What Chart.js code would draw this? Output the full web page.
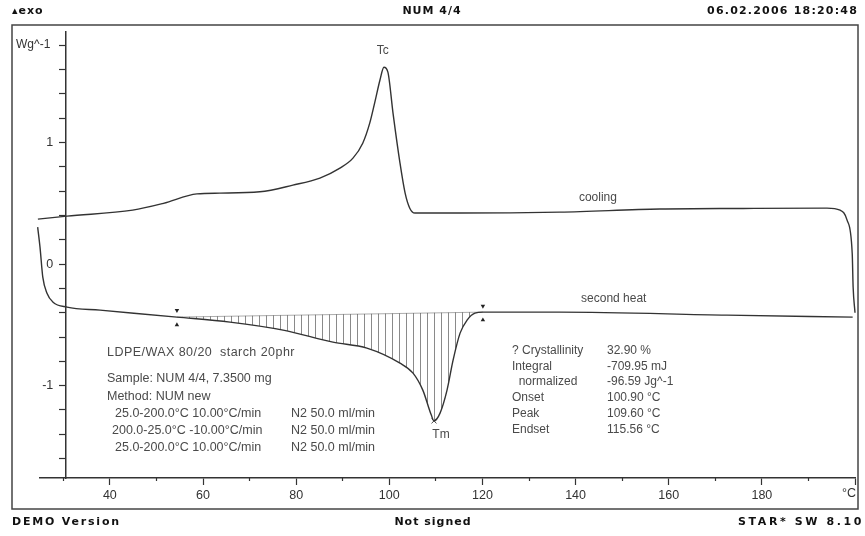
<!DOCTYPE html>
<html>
<head>
<meta charset="utf-8">
<script src="https://cdn.jsdelivr.net/npm/chart.js@4.4.1/dist/chart.umd.min.js"></script>
<style>
html, body { margin: 0; padding: 0; background: #fff; }
</style>
</head>
<body>
<canvas id="myChart" width="865" height="536"></canvas>
<script>
// DSC curves: temperature in °C, heat flow in W/g
var coolTemp   = [24.55, 30.8, 44.9, 51.5, 58.7, 63.6, 72.2, 79.3, 85.1, 89.4, 92.2, 94.3, 95.8, 96.9, 98.0, 98.85, 99.7, 100.8, 102.3, 103.4, 104.4, 105.5, 115.2, 136.6, 158.1, 176.0, 194.0, 196.8, 198.3, 199.4, 199.6, 200.0];
var coolSignal = [0.37, 0.395, 0.444, 0.50, 0.578, 0.584, 0.595, 0.65, 0.708, 0.79, 0.872, 0.995, 1.16, 1.333, 1.515, 1.62, 1.58, 1.243, 0.831, 0.584, 0.46, 0.42, 0.42, 0.428, 0.453, 0.458, 0.461, 0.444, 0.362, 0.09, -0.19, -0.40];

var heatTemp   = [24.5, 25.0, 25.6, 26.5, 27.8, 30.8, 37.9, 54.4, 65.8, 77.2, 87.9, 95.2, 102.3, 105.1, 107.2, 109.0, 109.6, 110.9, 112.4, 113.7, 115.2, 116.7, 118.4, 120.1, 136.6, 172.5, 199.5];
var heatSignal = [0.305, 0.14, -0.107, -0.239, -0.313, -0.354, -0.379, -0.436, -0.477, -0.543, -0.642, -0.691, -0.815, -0.897, -1.037, -1.24, -1.29, -1.226, -1.037, -0.79, -0.568, -0.461, -0.403, -0.395, -0.395, -0.42, -0.436];

// integration limits (onset / endset of the peak area)
var limitTemp  = [54.4, 120.1];
var limitBase  = [-0.436, -0.395];
var limitUpper = [-0.38, -0.345];
var limitLower = [-0.50, -0.46];

var peakTemp = [109.6];
var peakSignal = [-1.29];

var xMajorTicks = [40, 60, 80, 100, 120, 140, 160, 180, 200];
var xMinorTicks = [30, 50, 70, 90, 110, 130, 150, 170, 190];
var yTicks = [-1.6, -1.4, -1.2, -1, -0.8, -0.6, -0.4, -0.2, 0, 0.2, 0.4, 0.6, 0.8, 1, 1.2, 1.4, 1.6, 1.8];

var xMin = 25, xMax = 200, yMin = -1.76, yMax = 1.91;
var yAxisAt = 30.5, yLabelsAt = 27.85;

function pts(xs, ys) {
    return xs.map(function (v, i) { return { x: v, y: ys[i] }; });
}

var peakArea = pts(heatTemp, heatSignal).filter(function (p) {
    return p.x >= limitTemp[0] && p.x <= limitTemp[1];
});

// vertical hatching for the integrated area
var hatch = document.createElement('canvas');
hatch.width = 7;
hatch.height = 2;
var hc = hatch.getContext('2d');
hc.fillStyle = 'rgba(60,60,60,0.6)';
hc.fillRect(0, 0, 1, 2);

var ink = '#333';
var grey = '#4a4a4a';

function txt(ctx, s, x, y, font, align, color, spacing) {
    ctx.save();
    ctx.font = font;
    ctx.fillStyle = color || ink;
    ctx.textAlign = align || 'left';
    ctx.textBaseline = 'middle';
    ctx.letterSpacing = (spacing || 0) + 'px';
    ctx.fillText(s, x, y);
    ctx.restore();
}

var sheet = {
    id: 'sheet',
    beforeDraw: function (chart) {
        var ctx = chart.ctx;
        ctx.save();
        ctx.fillStyle = '#fff';
        ctx.fillRect(0, 0, chart.width, chart.height);
        ctx.strokeStyle = '#444';
        ctx.lineWidth = 1.5;
        ctx.strokeRect(12, 25, 846, 484);
        ctx.restore();
    },
    afterDraw: function (chart) {
        var ctx = chart.ctx;
        var sx = chart.scales.x, sy = chart.scales.y;
        var bold = 'bold 11px "DejaVu Sans"';
        txt(ctx, '\u25B4exo', 12, 11, bold, 'left', '#111', 1);
        txt(ctx, 'NUM 4/4', 432, 11, bold, 'center', '#111', 1);
        txt(ctx, '06.02.2006 18:20:48', 858, 11, bold, 'right', '#111', 1.2);
        txt(ctx, 'DEMO Version', 12, 522, bold, 'left', '#111', 1.8);
        txt(ctx, 'Not signed', 433, 522, bold, 'center', '#111', 1);
        txt(ctx, 'STAR* SW 8.10', 738, 522, bold, 'left', '#111', 2.6);

        var f = '12px "Liberation Sans"';
        txt(ctx, 'Wg^-1', 16, 45, f, 'left', ink);
        // unit in place of the last x tick label
        txt(ctx, '\u00B0C', sx.getPixelForValue(xMax) - 6, 494, '12.5px "Liberation Sans"', 'center', ink);

        txt(ctx, 'Tc', sx.getPixelForValue(98.6), sy.getPixelForValue(1.76), f, 'center', grey);
        txt(ctx, 'Tm', sx.getPixelForValue(111.1), sy.getPixelForValue(-1.4), f, 'center', grey);
        txt(ctx, 'cooling', sx.getPixelForValue(144.8), sy.getPixelForValue(0.543), f, 'center', grey);
        txt(ctx, 'second heat', sx.getPixelForValue(148.2), sy.getPixelForValue(-0.288), f, 'center', grey);

        var g = '12.5px "Liberation Sans"';
        txt(ctx, 'LDPE/WAX 80/20  starch 20phr', 107, 353, g, 'left', grey, 0.45);
        txt(ctx, 'Sample: NUM 4/4, 7.3500 mg', 107, 379, g, 'left', grey);
        txt(ctx, 'Method: NUM new', 107, 397, g, 'left', grey);
        txt(ctx, '25.0-200.0\u00B0C 10.00\u00B0C/min', 115, 414, g, 'left', grey);
        txt(ctx, '200.0-25.0\u00B0C -10.00\u00B0C/min', 112, 431, g, 'left', grey);
        txt(ctx, '25.0-200.0\u00B0C 10.00\u00B0C/min', 115, 448, g, 'left', grey);
        txt(ctx, 'N2 50.0 ml/min', 291, 414, g, 'left', grey);
        txt(ctx, 'N2 50.0 ml/min', 291, 431, g, 'left', grey);
        txt(ctx, 'N2 50.0 ml/min', 291, 448, g, 'left', grey);

        var h = '12px "Liberation Sans"';
        var names = ['? Crystallinity', 'Integral', '  normalized', 'Onset', 'Peak', 'Endset'];
        var vals = ['32.90 %', '-709.95 mJ', '-96.59 Jg^-1', '100.90 \u00B0C', '109.60 \u00B0C', '115.56 \u00B0C'];
        for (var i = 0; i < names.length; i++) {
            var yy = 350.5 + i * 15.8;
            txt(ctx, names[i], 512, yy, h, 'left', grey);
            txt(ctx, vals[i], 607, yy, h, 'left', grey);
        }
    }
};

var lineStyle = {
    borderColor: ink,
    borderWidth: 1.4,
    pointRadius: 0,
    fill: false,
    clip: false,
    cubicInterpolationMode: 'monotone'
};

var ctx = document.getElementById('myChart').getContext('2d');
var myChart = new Chart(ctx, {
    type: 'line',
    data: {
        datasets: [
            Object.assign({ label: 'cooling', data: pts(coolTemp, coolSignal) }, lineStyle),
            Object.assign({ label: 'second heat', data: pts(heatTemp, heatSignal) }, lineStyle),
            {
                label: 'baseline',
                data: pts(limitTemp, limitBase),
                borderColor: 'rgba(80,80,80,0.6)',
                borderWidth: 0.8,
                pointRadius: 0,
                fill: false
            },
            {
                label: 'area',
                data: peakArea,
                borderWidth: 0,
                pointRadius: 0,
                backgroundColor: ctx.createPattern(hatch, 'repeat'),
                fill: 2,
                cubicInterpolationMode: 'monotone'
            },
            {
                label: 'limits top',
                data: pts(limitTemp, limitUpper),
                showLine: false,
                pointStyle: 'triangle',
                rotation: 180,
                pointRadius: 2.6,
                backgroundColor: '#222',
                borderColor: '#222',
                borderWidth: 0
            },
            {
                label: 'limits bottom',
                data: pts(limitTemp, limitLower),
                showLine: false,
                pointStyle: 'triangle',
                pointRadius: 2.6,
                backgroundColor: '#222',
                borderColor: '#222',
                borderWidth: 0
            },
            {
                label: 'Tm',
                data: pts(peakTemp, peakSignal),
                showLine: false,
                pointStyle: 'crossRot',
                pointRadius: 3.5,
                borderColor: '#444',
                borderWidth: 1
            }
        ]
    },
    options: {
        responsive: false,
        animation: false,
        layout: { padding: { left: 40, right: 10, top: 32, bottom: 30 } },
        plugins: {
            legend: { display: false },
            tooltip: { enabled: false }
        },
        scales: {
            x: {
                type: 'linear',
                min: xMin,
                max: xMax,
                position: 'bottom',
                afterBuildTicks: function (s) { s.ticks = xMajorTicks.map(function (v) { return { value: v }; }); },
                ticks: {
                    autoSkip: false,
                    maxRotation: 0,
                    padding: 3,
                    color: ink,
                    font: { family: 'Liberation Sans', size: 12.5 },
                    callback: function (v) { return v === xMax ? '' : v; }
                },
                grid: { drawOnChartArea: false, tickLength: 7, tickColor: ink, tickWidth: 1.2 },
                border: { color: ink, width: 1.5 }
            },
            xMinor: {
                type: 'linear',
                min: xMin,
                max: xMax,
                position: { y: yMin },
                afterBuildTicks: function (s) { s.ticks = xMinorTicks.map(function (v) { return { value: v }; }); },
                ticks: { display: false },
                grid: { drawOnChartArea: false, tickLength: 3, tickColor: ink, tickWidth: 1.2 },
                border: { display: false }
            },
            y: {
                type: 'linear',
                min: yMin,
                max: yMax,
                position: { x: yAxisAt },
                afterBuildTicks: function (s) { s.ticks = yTicks.map(function (v) { return { value: v }; }); },
                ticks: { display: false },
                grid: { drawOnChartArea: false, tickLength: 6, tickColor: ink, tickWidth: 1.2 },
                border: { color: ink, width: 1.5 }
            },
            yLabels: {
                type: 'linear',
                min: yMin,
                max: yMax,
                position: { x: yLabelsAt },
                afterBuildTicks: function (s) { s.ticks = yTicks.map(function (v) { return { value: v }; }); },
                ticks: {
                    autoSkip: false,
                    padding: 0,
                    color: ink,
                    font: { family: 'Liberation Sans', size: 12.5 },
                    callback: function (v) { return Number.isInteger(v) ? v : ''; }
                },
                grid: { display: false, drawTicks: false },
                border: { display: false }
            }
        }
    },
    plugins: [sheet]
});
</script>
</body>
</html>
